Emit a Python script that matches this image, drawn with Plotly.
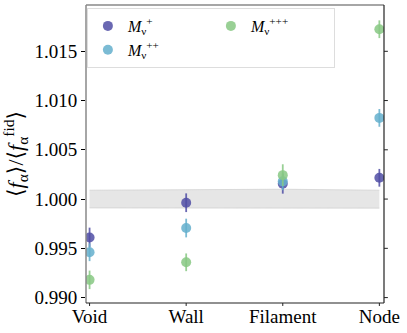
import plotly.graph_objects as go

categories = ["Void", "Wall", "Filament", "Node"]
x_pos = [0, 1, 2, 3]

m_plus = [0.9961, 0.99963, 1.00155, 1.00216]
m_plus_err = [0.0010, 0.00095, 0.0010, 0.0009]
m_pp = [0.9946, 0.99706, 1.0018, 1.00824]
m_pp_err = [0.0009, 0.00095, 0.0009, 0.0009]
m_ppp = [0.9918, 0.99358, 1.00243, 1.01724]
m_ppp_err = [0.00094, 0.0009, 0.0011, 0.0009]

band_lower = [0.99910, 0.99908, 0.99903, 0.99908]
band_upper = [1.00090, 1.00092, 1.00100, 1.00090]

tick_vals = [0.990, 0.995, 1.000, 1.005, 1.010, 1.015]

FONT = "Liberation Serif, Times New Roman, DejaVu Serif, serif"
fig = go.Figure()

fig.add_trace(go.Scatter(x=x_pos, y=band_lower, mode="lines",
                         line=dict(color="rgba(200,200,200,0.6)", width=1),
                         showlegend=False, hoverinfo="skip"))
fig.add_trace(go.Scatter(x=x_pos, y=band_upper, mode="lines", fill="tonexty",
                         fillcolor="rgba(200,200,200,0.45)",
                         line=dict(color="rgba(200,200,200,0.6)", width=1),
                         showlegend=False, hoverinfo="skip"))

series = [
    ("<i>M</i><sub>ν</sub><sup>+</sup>", m_plus, m_plus_err, "rgba(80,78,165,0.85)", 1),
    ("<i>M</i><sub>ν</sub><sup>++</sup>", m_pp, m_pp_err, "rgba(100,175,205,0.85)", 3),
    ("<i>M</i><sub>ν</sub><sup>+++</sup>", m_ppp, m_ppp_err, "rgba(135,200,130,0.85)", 2),
]
for name, ys, errs, col, rank in series:
    fig.add_trace(go.Scatter(
        x=x_pos, y=ys, mode="markers", name=name, legendrank=rank,
        marker=dict(color=col, size=10),
        error_y=dict(type="data", array=errs, color=col, thickness=1.8, width=0),
    ))

fig.update_layout(
    width=407, height=333,
    margin=dict(l=86, r=23, t=5, b=30, autoexpand=False),
    paper_bgcolor="white", plot_bgcolor="white",
    font=dict(family=FONT, size=19, color="black"),
    legend=dict(
        orientation="h", x=0.003, y=0.99, xanchor="left", yanchor="top",
        entrywidth=78, bordercolor="#dddddd", borderwidth=1,
        bgcolor="rgba(255,255,255,0.8)", font=dict(size=16, family=FONT),
        itemwidth=30, traceorder="normal",
    ),
    xaxis=dict(range=[-0.037, 3.048], tickvals=x_pos, ticktext=categories,
               showgrid=False, zeroline=False, showline=False,
               ticks="", automargin=False, ticklabeloverflow="allow",
               tickfont=dict(size=19, family=FONT)),
    yaxis=dict(range=[0.98945, 1.0197], tickvals=tick_vals,
               tickformat=".3f", showgrid=False, zeroline=False, showline=False,
               ticks="outside", ticklen=4, tickcolor="black", automargin=False,
               tickfont=dict(size=19, family=FONT),
               title=dict(text="⟨<i>f</i><sub>α</sub>⟩/⟨<i>f</i><sub>α</sub><sup>fid</sup>⟩",
                          font=dict(size=22, family=FONT), standoff=6)),
    showlegend=True,
)

# spines
fig.add_shape(type="line", xref="paper", yref="paper", x0=0, x1=0, y0=0, y1=1,
              line=dict(color="#888888", width=1.5))
fig.add_shape(type="line", xref="paper", yref="paper", x0=0, x1=1, y0=1, y1=1,
              line=dict(color="#888888", width=1.5))
fig.add_shape(type="line", xref="paper", yref="paper", x0=1, x1=1, y0=0, y1=1,
              line=dict(color="#222222", width=1.2))
fig.add_shape(type="line", xref="paper", yref="paper", x0=0, x1=1, y0=0, y1=0,
              line=dict(color="#222222", width=1.2))
# right-side ticks
for v in tick_vals:
    fig.add_shape(type="line", xref="paper", yref="y", x0=1, x1=1.013, y0=v, y1=v,
                  line=dict(color="#222222", width=1))
# bottom ticks
for xv in x_pos:
    fig.add_shape(type="line", xref="x", yref="paper", x0=xv, x1=xv, y0=0, y1=-0.01,
                  line=dict(color="#222222", width=1))

fig.write_html("out.html", config={"displayModeBar": False},
               post_script="document.body.style.margin='0px';document.body.style.overflow='hidden';")
